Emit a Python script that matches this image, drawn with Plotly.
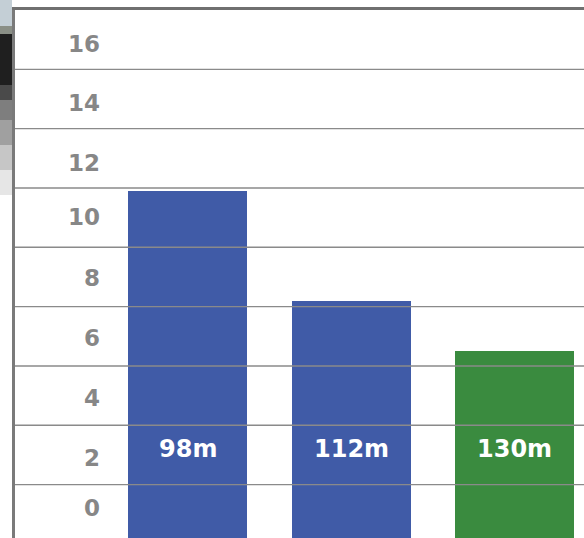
import plotly.graph_objects as go

# ---- data ----
categories = ["98m", "112m", "130m"]
values = [10.9, 7.2, 5.5]
bar_colors = ["#405BA7", "#405BA7", "#3A8B3F"]
tick_labels = ["0", "2", "4", "6", "8", "10", "12", "14", "16"]
tick_positions = [0.2, 1.9, 3.92, 5.93, 7.98, 10.02, 11.84, 13.86, 15.86]
grid_values = [1, 3, 5, 7, 9, 11, 13, 15]
label_level = 2.2
bar_base = -1.0

W, H = 584, 538
ML, MT = 15, 10
y_range = [-0.8, 17]
x_range = [-1.061, 2.429]

xs = list(range(len(categories)))

fig = go.Figure()
fig.add_trace(go.Bar(
    x=xs,
    y=[v - bar_base for v in values],
    base=bar_base,
    width=0.73,
    marker=dict(color=bar_colors, line=dict(width=0)),
    hoverinfo="skip",
    showlegend=False,
))

shapes = []
# decorative photo strip on the far left
def py(p):
    return (H - p) / (H - MT)

strip = [(0, 26, "#c4cfd6"), (26, 34, "#8a8f86"), (34, 85, "#1f1f1f"),
         (85, 100, "#4a4a4a"), (100, 120, "#7e7e7e"), (120, 145, "#a0a0a0"),
         (145, 170, "#c6c6c6"), (170, 195, "#e6e6e6")]
for a, b, c in strip:
    shapes.append(dict(type="rect", xref="paper", yref="paper",
                       x0=0, x1=12 / W, y0=py(b), y1=py(a),
                       fillcolor=c, line=dict(width=0), layer="below"))

# gridlines drawn above bars
for g in grid_values:
    shapes.append(dict(type="line", xref="x domain", yref="y", x0=0, x1=1,
                       y0=g, y1=g, line=dict(color="#8a8a8a", width=1.4),
                       layer="above"))

annotations = []
for i, lab in enumerate(categories):
    annotations.append(dict(x=xs[i], y=label_level, xref="x", yref="y",
                            text=lab, showarrow=False,
                            font=dict(family="DejaVu Sans", size=24,
                                      color="white", weight="bold")))

fig.update_layout(
    width=W, height=H,
    margin=dict(l=0, r=0, t=MT, b=0),
    paper_bgcolor="white", plot_bgcolor="white",
    bargap=0,
    shapes=shapes,
    annotations=annotations,
    xaxis=dict(domain=[ML / W, 1], range=x_range, side="top",
               showline=True, linecolor="#707070", linewidth=3,
               showticklabels=False, showgrid=False, zeroline=False,
               ticks="", fixedrange=True),
    yaxis=dict(range=y_range, showline=True, linecolor="#7a7a7a",
               linewidth=3, showticklabels=False, showgrid=False,
               zeroline=False, ticks="", fixedrange=True),
    yaxis2=dict(range=y_range, overlaying="y", anchor="free",
                position=100 / W, side="left",
                tickvals=tick_positions, ticktext=tick_labels,
                showline=False, showgrid=False, zeroline=False, ticks="",
                tickfont=dict(family="DejaVu Sans", size=23,
                              color="#878787", weight="bold"),
                fixedrange=True),
)

# invisible trace to activate yaxis2
fig.add_trace(go.Scatter(x=[xs[0]], y=[tick_positions[0]], yaxis="y2",
                         mode="markers", marker=dict(opacity=0),
                         hoverinfo="skip", showlegend=False))

fig.write_html("out.html")
